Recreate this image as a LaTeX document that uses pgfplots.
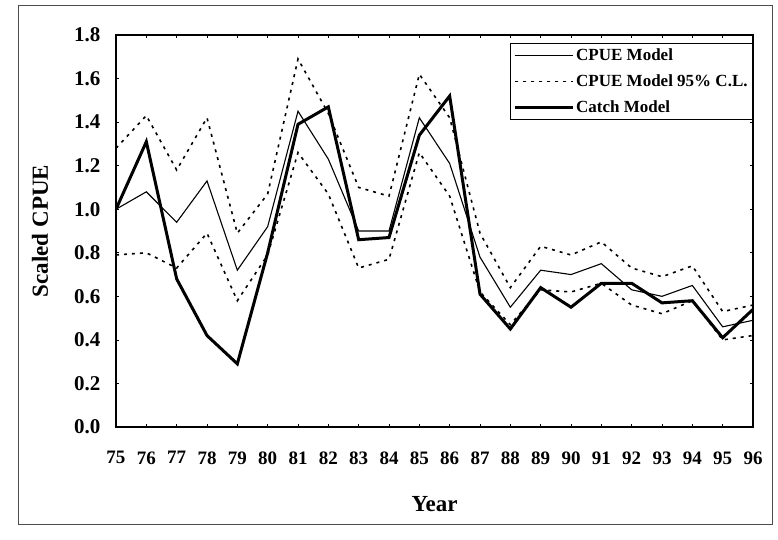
\documentclass[border=0pt]{standalone}
\usepackage{fontspec}
\setmainfont{Liberation Serif}
\usepackage{pgfplots}
\pgfplotsset{compat=1.18}
\begin{document}
\begin{tikzpicture}[x=1pt,y=1pt]
\path[use as bounding box] (0,0) rectangle (778,539);
\draw[line width=0.7pt, black!70] (18,15) rectangle (772,534);
\begin{axis}[
  at={(116pt,112pt)}, anchor=south west,
  scale only axis, width=637pt, height=392pt,
  xmin=0, xmax=21, ymin=0, ymax=1.8,
  xtick={0,...,21},
  xticklabels={75,76,77,78,79,80,81,82,83,84,85,86,87,88,89,90,91,92,93,94,95,96},
  ytick={0,0.2,0.4,0.6,0.8,1.0,1.2,1.4,1.6,1.8},
  /pgf/number format/assume math mode=true,
  yticklabel style={/pgf/number format/fixed, /pgf/number format/fixed zerofill, /pgf/number format/precision=1, xshift=-12pt, font=\fontsize{21}{24}\selectfont\bfseries},
  tick align=inside, major tick length=3pt,
  tick style={line width=0.6pt, black},
  axis line style={line width=1.4pt},
  xticklabel style={yshift=-21pt, font=\fontsize{19}{22}\selectfont\bfseries},
  xlabel={Year}, ylabel={Scaled CPUE},
  label style={font=\fontsize{23}{26}\selectfont\bfseries},
  xlabel style={at={(axis description cs:0.5,-0.196)}, anchor=center},
  ylabel style={at={(axis description cs:-0.1193,0.5)}, anchor=center},
  legend style={draw=black, line width=0.8pt, font=\fontsize{17}{19}\selectfont\bfseries,
    at={(1,1)}, anchor=north east, yshift=-8pt, inner sep=3pt, row sep=9pt},
  legend cell align=left,
  legend image code/.code={\draw[#1] (0pt,0pt) -- (58pt,0pt);},
]
\addplot[black, line width=1.1pt] coordinates {
(0,1.00) (1,1.08) (2,0.94) (3,1.13) (4,0.72) (5,0.92) (6,1.45) (7,1.23) (8,0.90) (9,0.90) (10,1.42)
(11,1.21) (12,0.78) (13,0.55) (14,0.72) (15,0.70) (16,0.75) (17,0.63) (18,0.60) (19,0.65) (20,0.46) (21,0.49)};
\addlegendentry{CPUE Model}
\addplot[black, line width=1.6pt, dash pattern=on 3pt off 5pt] coordinates {
(0,1.28) (1,1.43) (2,1.18) (3,1.42) (4,0.89) (5,1.07) (6,1.69) (7,1.44) (8,1.10) (9,1.06) (10,1.62)
(11,1.42) (12,0.89) (13,0.64) (14,0.83) (15,0.79) (16,0.85) (17,0.73) (18,0.69) (19,0.74) (20,0.53) (21,0.56)};
\addlegendentry{CPUE Model 95\% C.L.}
\addplot[black, line width=3pt, forget plot] coordinates {
(0,1.00) (1,1.31) (2,0.68) (3,0.42) (4,0.29) (5,0.80) (6,1.39) (7,1.47) (8,0.86) (9,0.87) (10,1.34)
(11,1.52) (12,0.61) (13,0.45) (14,0.64) (15,0.55) (16,0.66) (17,0.66) (18,0.57) (19,0.58) (20,0.41) (21,0.54)};
\addplot[black, line width=1.6pt, dash pattern=on 3pt off 5pt, forget plot] coordinates {
(0,0.79) (1,0.80) (2,0.73) (3,0.89) (4,0.58) (5,0.79) (6,1.26) (7,1.07) (8,0.73) (9,0.77) (10,1.26)
(11,1.06) (12,0.62) (13,0.47) (14,0.63) (15,0.62) (16,0.66) (17,0.56) (18,0.52) (19,0.58) (20,0.40) (21,0.42)};
\addlegendimage{black, line width=3pt}
\addlegendentry{Catch Model}
\end{axis}
\end{tikzpicture}
\end{document}
